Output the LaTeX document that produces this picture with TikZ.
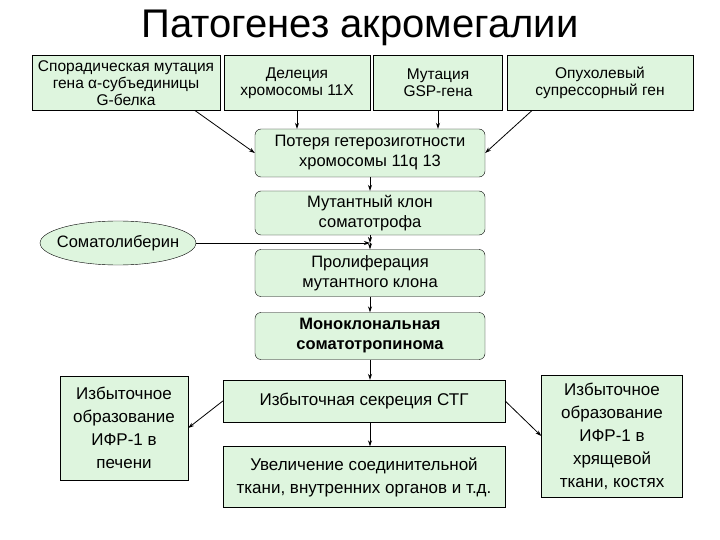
\documentclass[tikz,border=0pt]{standalone}
\usepackage{fontspec}
\setmainfont{Liberation Sans}
\usetikzlibrary{shapes.geometric,arrows.meta}
\definecolor{boxg}{RGB}{222,245,222}
\begin{document}
\begin{tikzpicture}[x=1pt,y=-1pt,
 bx/.style={draw,fill=boxg,align=center,inner sep=1pt,font=\fontsize{15.5}{17}\selectfont},
 rbx/.style={bx,rounded corners=6pt,font=\fontsize{16.5}{20}\selectfont},
 sbx/.style={bx,font=\fontsize{17}{23}\selectfont},
 ar/.style={-{Stealth[length=6pt,width=4pt]},thick}]
\useasboundingbox (0,0) rectangle (720,540);
\node at (360,28) {\fontsize{40}{46}\selectfont Патогенез акромегалии};
\node[bx,minimum width=188,minimum height=55] (a) at (126,83) {Спорадическая мутация\\гена α-субъединицы\\G-белка};
\node[bx,minimum width=146,minimum height=55] (b) at (297,83) {Делеция\\хромосомы 11Х};
\node[bx,minimum width=129,minimum height=55] (c) at (438,83) {Мутация\\GSP-гена};
\node[bx,minimum width=186,minimum height=55] (d) at (600,83) {Опухолевый\\супрессорный ген};
\node[rbx,minimum width=230,minimum height=48] (e) at (370,153) {Потеря гетерозиготности\\хромосомы 11q 13};
\node[rbx,minimum width=230,minimum height=44] (f) at (370,213) {Мутантный клон\\соматотрофа};
\node[draw,fill=boxg,ellipse,minimum height=44,inner xsep=-6pt,inner ysep=0pt,font=\fontsize{16.5}{18}\selectfont] (s) at (118,243) {Соматолиберин};
\node[rbx,minimum width=230,minimum height=47] (g) at (370,273) {Пролиферация\\мутантного клона};
\node[rbx,minimum width=230,minimum height=47,font=\fontsize{16.5}{20}\selectfont\bfseries] (h) at (370,336) {Моноклональная\\соматотропинома};
\node[sbx,minimum width=282,minimum height=42] (i) at (364,401) {Избыточная секреция СТГ};
\node[sbx,minimum width=282,minimum height=61] (j) at (364,477) {Увеличение соединительной\\ткани, внутренних органов и т.д.};
\node[sbx,minimum width=128,minimum height=104] (l) at (124,428) {Избыточное\\образование\\ИФР-1 в\\печени};
\node[sbx,minimum width=141,minimum height=122] (r) at (612,436) {Избыточное\\образование\\ИФР-1 в\\хрящевой\\ткани, костях};
\draw[ar] (a.south east)++(-25,0) -- (e.west);
\draw[ar] (b.south) -- (b.south|-e.north);
\draw[ar] (c.south) -- (c.south|-e.north);
\draw[ar] (d.south west)++(25,0) -- (e.east);
\draw[ar] (e.south) -- (f.north);
\coordinate (m) at (370,243);
\draw[ar] (f.south) -- (m);
\draw[ar] (s.east) -- (m);
\draw[ar] (m) -- (g.north);
\draw[ar] (g.south) -- (h.north);
\draw[ar] (h.south) -- (h.south|-i.north);
\draw[ar] (h.south|-i.south) -- (h.south|-j.north);
\draw[ar] (i.west) -- (l.east);
\draw[ar] (i.east) -- (r.west);
\end{tikzpicture}
\end{document}
